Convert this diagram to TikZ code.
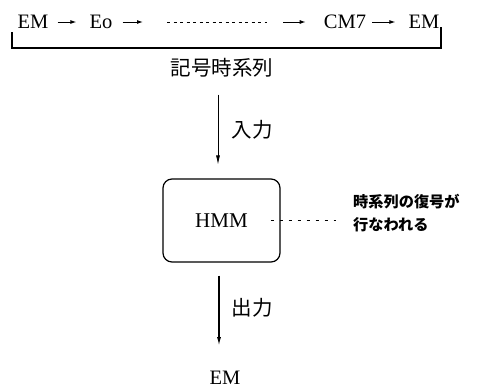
\documentclass[tikz,border=0pt]{standalone}
\usepackage{fontspec}
\setmainfont{Liberation Serif}
\newfontfamily\jp{Noto Sans CJK JP}
\usetikzlibrary{arrows.meta}
\begin{document}
\begin{tikzpicture}[x=1pt,y=-1pt,
  lat/.style={inner sep=0pt,font=\fontsize{20.5}{24}\selectfont},
  jlab/.style={inner sep=0pt,font=\jp\fontsize{20.5}{24}\selectfont},
  note/.style={inner sep=0pt,align=left,font=\jp\bfseries\fontsize{15.2}{23}\selectfont},
  tarrow/.style={line width=1pt,-{Latex[length=6pt,width=4pt]}},
  flow/.style={line width=0.7pt,-{Latex[length=9pt,width=4pt]}},
  flowthick/.style={line width=1.4pt,-{Latex[length=9pt,width=4pt]}},
  hmmbox/.style={draw,line width=1.2pt,rounded corners=9pt,minimum width=117pt,minimum height=83pt,inner sep=0pt,font=\fontsize{21}{24}\selectfont}
]
\useasboundingbox (0,0) rectangle (477,388);
% top sequence
\node[lat] (em1) at (33,22) {EM};
\node[lat] (eo) at (101,22) {Eo};
\coordinate (d1) at (167,22);
\coordinate (d2) at (267,22);
\node[lat] (cm7) at (345,22) {CM7};
\node[lat] (em2) at (424,22) {EM};
\draw[tarrow,shorten <=9pt,shorten >=13pt] (em1) -- (eo);
\draw[tarrow,shorten <=10pt,shorten >=24pt] (eo) -- (d1);
\draw[line width=0.8pt,dash pattern=on 3pt off 3.5pt] (d1) -- (d2);
\draw[tarrow,shorten <=16pt,shorten >=18pt] (d2) -- (cm7);
\draw[tarrow,shorten <=6pt,shorten >=13pt] (cm7) -- (em2);
% bracket
\coordinate (bl) at (12,32);
\coordinate (br) at (441,27);
\draw[line width=1.2pt] (bl) -- (12,48) -- (441,48) -- (br);
% label
\node[jlab] (seq) at (222,68) {記号時系列};
% HMM
\node[hmmbox] (hmm) at (221.5,220.5) {HMM};
\node[note,anchor=west] (nt) at (353,213.5) {時系列の復号が\\行なわれる};
\draw[line width=0.8pt,dash pattern=on 3pt off 6pt,shorten <=-10pt,shorten >=17pt] (hmm.east) -- (hmm.east -| nt.west);
\draw[flow,shorten <=17pt,shorten >=14pt] ([xshift=-3.5pt]hmm.north |- seq.south) -- ([xshift=-3.5pt]hmm.north);
\node[jlab] (in) at (252,130) {入力};
% output
\node[lat] (emo) at (225,378) {EM};
\draw[flowthick,shorten <=13pt,shorten >=25pt] ([xshift=-2.5pt]hmm.south) -- ([xshift=-2.5pt]hmm.south |- emo.north);
\node[jlab] (out) at (252,308) {出力};
\end{tikzpicture}
\end{document}
